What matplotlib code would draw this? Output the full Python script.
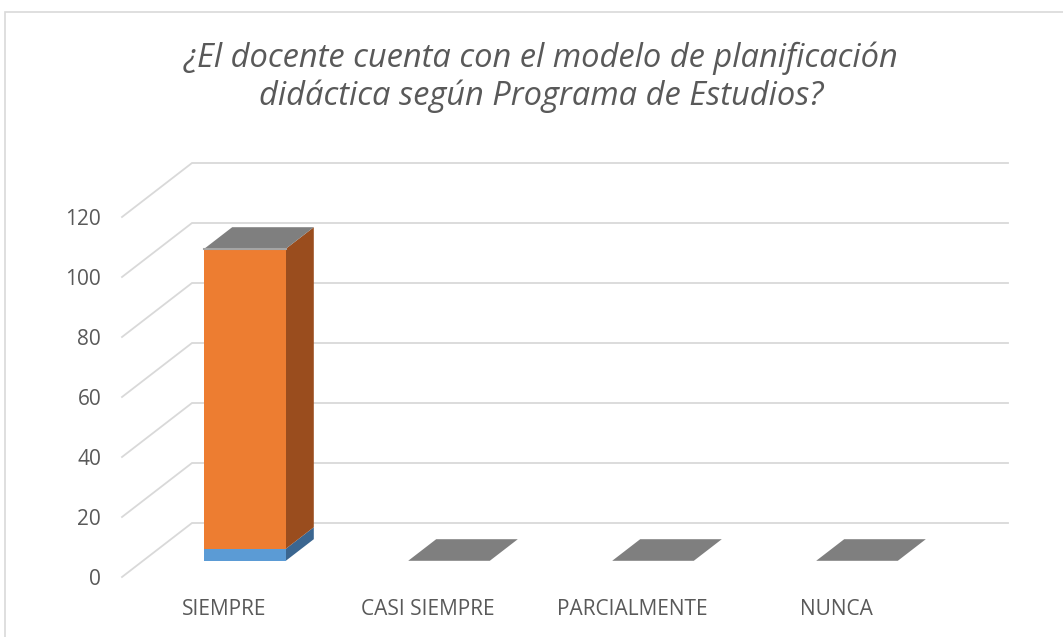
import matplotlib
matplotlib.use("Agg")
import matplotlib.pyplot as plt
from matplotlib.patches import Polygon, Rectangle

# datos del grafico
categorias = ["SIEMPRE", "CASI SIEMPRE", "PARCIALMENTE", "NUNCA"]
serie_azul = [4, 0, 0, 0]
serie_naranja = [100, 0, 0, 0]
serie_gris = [0, 0, 0, 0]
y_ticks = [0, 20, 40, 60, 80, 100, 120]
titulo_1 = "¿El docente cuenta con el modelo de planificación"
titulo_2 = "didáctica según Programa de Estudios?"

W, H = 1063, 637
fig = plt.figure(figsize=(W / 100, H / 100), dpi=100)

# plano frontal del grafico (en pixeles)
left, right, bottom, top = 122, 938, 577, 217
ax = fig.add_axes([left / W, 1 - bottom / H, (right - left) / W, (bottom - top) / H])
ax.set_xlim(-0.5, 3.5)
ax.set_ylim(0, 120)

# profundidad 3D expresada en unidades de datos
DX = 70 / ((right - left) / 4)
DY = 54 / ((bottom - top) / 120)


def p(x, y, z):
    return (x + z * DX, y + z * DY)


# lineas de cuadricula (pared lateral y fondo)
grid = "#d9d9d9"
for v in y_ticks:
    pts = [p(-0.5, v, 0), p(-0.5, v, 1), p(3.5, v, 1)]
    ax.plot([q[0] for q in pts], [q[1] for q in pts], color=grid, lw=1.3,
            clip_on=False, zorder=1, solid_joinstyle="miter")

z0, z1 = 0.3, 0.7
ancho = 0.4


def caja(x, y0, y1, c_frente, c_lado, zo):
    xl, xr = x - ancho / 2, x + ancho / 2
    if y1 <= y0:
        return
    frente = [p(xl, y0, z0), p(xr, y0, z0), p(xr, y1, z0), p(xl, y1, z0)]
    lado = [p(xr, y0, z0), p(xr, y0, z1), p(xr, y1, z1), p(xr, y1, z0)]
    ax.add_patch(Polygon(lado, closed=True, fc=c_lado, ec="none", clip_on=False, zorder=zo))
    ax.add_patch(Polygon(frente, closed=True, fc=c_frente, ec="none", clip_on=False, zorder=zo))


for i in range(len(categorias)):
    b = serie_azul[i]
    o = serie_naranja[i]
    g = serie_gris[i]
    caja(i, 0, b, "#5b9bd5", "#3b6690", 3)
    caja(i, b, b + o, "#ed7d31", "#9a4d1e", 3)
    caja(i, b + o, b + o + g, "#a5a5a5", "#6e6e6e", 3)
    ytop = b + o + g
    xl, xr = i - ancho / 2, i + ancho / 2
    tapa = [p(xl, ytop, z0), p(xr, ytop, z0), p(xr, ytop, z1), p(xl, ytop, z1)]
    ax.add_patch(Polygon(tapa, closed=True, fc="#7f7f7f", ec="none", clip_on=False, zorder=4))
    if ytop > 0:
        a, c = p(xl, ytop, z0), p(xr, ytop, z0)
        ax.plot([a[0], c[0]], [a[1], c[1]], color="#a5a5a5", lw=1.5, clip_on=False, zorder=5)

for s in ax.spines.values():
    s.set_visible(False)
ax.set_facecolor("none")
ax.set_yticks(y_ticks)
ax.set_yticklabels([str(v) for v in y_ticks])
ax.set_xticks(range(len(categorias)))
ax.set_xticklabels(categorias)
ax.tick_params(axis="y", length=0, pad=15, labelsize=15, labelcolor="#595959")
ax.tick_params(axis="x", length=0, pad=16, labelsize=15, labelcolor="#595959")
for t in ax.get_xticklabels() + ax.get_yticklabels():
    t.set_family("Open Sans")

fig.text(541 / W, 1 - 67 / H, titulo_1, ha="center", va="baseline", fontsize=23.5,
         family="Open Sans", style="italic", color="#595959")
fig.text(541 / W, 1 - 105 / H, titulo_2, ha="center", va="baseline", fontsize=23.5,
         family="Open Sans", style="italic", color="#595959")

# borde del area del grafico
fig.patches.append(Rectangle((5 / W, -0.05), 1.1, 1 - 12 / H + 0.05, transform=fig.transFigure,
                             fill=False, ec="#d9d9d9", lw=1.2))

fig.savefig("out.png", dpi=100, facecolor="white")
